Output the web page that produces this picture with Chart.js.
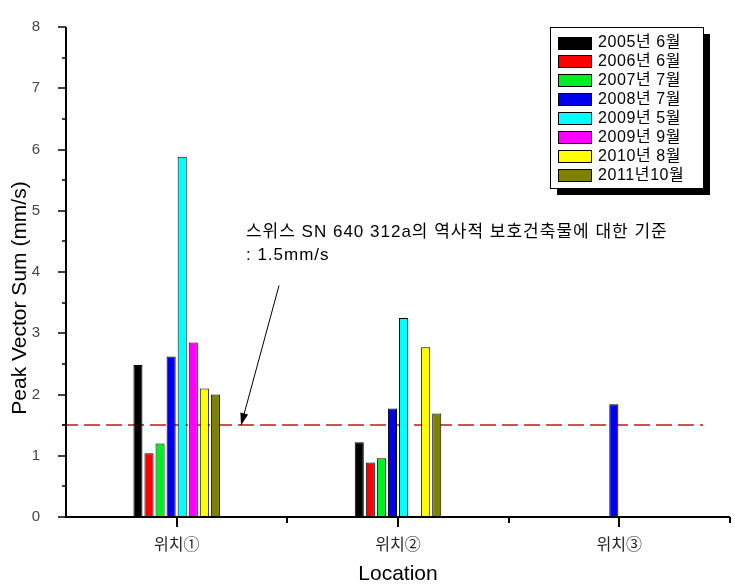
<!DOCTYPE html>
<html>
<head>
<meta charset="utf-8">
<script src="https://cdn.jsdelivr.net/npm/chart.js@4.4.1/dist/chart.umd.min.js"></script>
<style>
  html, body { margin: 0; padding: 0; background: #fff; }
  #wrap { width: 735px; height: 588px; }
</style>
</head>
<body>
<div id="wrap"><canvas id="c" width="735" height="588"></canvas></div>
<script>
// ---- data ----
const categories = ['위치①', '위치②', '위치③'];
const seriesLabels = ['2005년 6월', '2006년 6월', '2007년 7월', '2008년 7월', '2009년 5월', '2009년 9월', '2010년 8월', '2011년10월'];
const s2005_06 = [2.48, 1.22, null];
const s2006_06 = [1.04, 0.89, null];
const s2007_07 = [1.20, 0.96, null];
const s2008_07 = [2.62, 1.77, 1.84];
const s2009_05 = [5.88, 3.25, null];
const s2009_09 = [2.85, null, null];
const s2010_08 = [2.10, 2.77, null];
const s2011_10 = [2.00, 1.69, null];
const seriesValues = [s2005_06, s2006_06, s2007_07, s2008_07, s2009_05, s2009_09, s2010_08, s2011_10];
const seriesColors = ['#000000', '#ff0000', '#00ee22', '#0000ee', '#00ffff', '#ff00ff', '#ffff00', '#808000'];
const yTicks = [0, 1, 2, 3, 4, 5, 6, 7, 8];
const thresholdValue = 1.5;
const annotationLine1 = '스위스 SN 640 312a의 역사적 보호건축물에 대한 기준';
const annotationLine2 = ': 1.5mm/s';
const xTitle = 'Location';
const yTitle = 'Peak Vector Sum (mm/s)';

const FONT = '"Liberation Sans", Arial, "Noto Sans CJK KR", sans-serif';

const overlay = {
  id: 'overlay',
  beforeDatasetsDraw(chart) {
    const ctx = chart.ctx, xs = chart.scales.x, ys = chart.scales.y;
    const y = Math.round(ys.getPixelForValue(thresholdValue));
    ctx.save();
    ctx.strokeStyle = '#c01818';
    ctx.lineWidth = 1.5;
    ctx.setLineDash([16, 6]);
    ctx.beginPath();
    ctx.moveTo(xs.left - 4, y);
    ctx.lineTo(xs.getPixelForValue(2.378), y);
    ctx.stroke();
    ctx.restore();
  },
  afterDraw(chart) {
    const ctx = chart.ctx, xs = chart.scales.x, ys = chart.scales.y;
    const a = chart.chartArea;
    ctx.save();
    // axes
    ctx.strokeStyle = '#000';
    ctx.lineWidth = 2;
    ctx.beginPath();
    ctx.moveTo(a.left, a.top);
    ctx.lineTo(a.left, a.bottom);
    ctx.lineTo(a.right, a.bottom);
    ctx.stroke();
    // y ticks major + minor
    ctx.lineWidth = 1.5;
    for (let v = ys.min; v <= ys.max + 1e-9; v += 0.5) {
      const py = Math.round(ys.getPixelForValue(v));
      const major = Math.abs(v - Math.round(v)) < 1e-9;
      ctx.beginPath();
      ctx.moveTo(a.left - (major ? 8 : 4), py);
      ctx.lineTo(a.left, py);
      ctx.stroke();
    }
    // x ticks: major at centers, minor at boundaries
    ctx.lineWidth = 2;
    for (let i = 0; i < categories.length; i++) {
      const px = Math.round(xs.getPixelForValue(i));
      ctx.beginPath();
      ctx.moveTo(px, a.bottom);
      ctx.lineTo(px, a.bottom + 10);
      ctx.stroke();
      const bx = Math.round(xs.getPixelForValue(i + 0.5));
      ctx.beginPath();
      ctx.moveTo(bx, a.bottom);
      ctx.lineTo(bx, a.bottom + 6);
      ctx.stroke();
    }
    // axis titles
    ctx.fillStyle = '#000';
    ctx.font = '21px ' + FONT;
    ctx.textAlign = 'center';
    ctx.textBaseline = 'middle';
    ctx.fillText(xTitle, (a.left + a.right) / 2, 574);
    ctx.save();
    ctx.translate(20, (a.top + a.bottom) / 2 + 26);
    ctx.rotate(-Math.PI / 2);
    ctx.fillText(yTitle, 0, 0);
    ctx.restore();

    // annotation text
    ctx.font = '17px ' + FONT;
    ctx.letterSpacing = '1px';
    ctx.textAlign = 'left';
    ctx.fillStyle = '#000';
    const tx = xs.getPixelForValue(0.313);
    ctx.fillText(annotationLine1, tx, ys.getPixelForValue(4.64));
    ctx.fillText(annotationLine2, tx, ys.getPixelForValue(4.27));
    ctx.letterSpacing = '0px';
    // arrow
    const x0 = xs.getPixelForValue(0.4625), y0 = ys.getPixelForValue(3.78);
    const x1 = xs.getPixelForValue(0.291), y1 = ys.getPixelForValue(thresholdValue);
    ctx.strokeStyle = '#000';
    ctx.lineWidth = 1;
    ctx.beginPath();
    ctx.moveTo(x0, y0);
    ctx.lineTo(x1, y1);
    ctx.stroke();
    const ang = Math.atan2(y1 - y0, x1 - x0);
    const hl = 12, hw = 4;
    ctx.beginPath();
    ctx.moveTo(x1, y1);
    ctx.lineTo(x1 - hl * Math.cos(ang) + hw * Math.sin(ang), y1 - hl * Math.sin(ang) - hw * Math.cos(ang));
    ctx.lineTo(x1 - hl * Math.cos(ang) - hw * Math.sin(ang), y1 - hl * Math.sin(ang) + hw * Math.cos(ang));
    ctx.closePath();
    ctx.fillStyle = '#000';
    ctx.fill();

    // legend
    const lx = a.right - 180, ly = a.top, lw = 153, lh = 161;
    ctx.fillStyle = '#000';
    ctx.fillRect(lx + 7, ly + 7, lw, lh);
    ctx.fillStyle = '#fff';
    ctx.fillRect(lx, ly, lw, lh);
    ctx.strokeStyle = '#000';
    ctx.lineWidth = 1;
    ctx.strokeRect(lx + 0.5, ly + 0.5, lw, lh);
    ctx.font = '16px ' + FONT;
    ctx.letterSpacing = '0.6px';
    ctx.textBaseline = 'middle';
    chart.data.datasets.forEach((ds, i) => {
      const cy = ly + 16 + i * 18.9;
      ctx.fillStyle = ds.backgroundColor;
      ctx.fillRect(lx + 8, Math.round(cy - 6.5), 34, 13);
      ctx.strokeStyle = '#000';
      ctx.strokeRect(lx + 8.5, Math.round(cy - 6.5) + 0.5, 33, 12);
      ctx.fillStyle = '#000';
      ctx.fillText(ds.label, lx + 48, cy);
    });
    ctx.letterSpacing = '0px';
    ctx.restore();
  }
};

new Chart(document.getElementById('c'), {
  type: 'bar',
  data: {
    labels: categories,
    datasets: seriesLabels.map((lab, i) => ({
      label: lab,
      data: seriesValues[i],
      backgroundColor: seriesColors[i],
      borderColor: '#000',
      borderWidth: 1,
      categoryPercentage: 0.4,
      barPercentage: 0.82
    }))
  },
  options: {
    responsive: false,
    animation: false,
    events: [],
    layout: { padding: { top: 26, right: 5, left: 0, bottom: 0 } },
    plugins: { legend: { display: false }, tooltip: { enabled: false } },
    scales: {
      x: {
        offset: true,
        grid: { display: false },
        border: { display: false },
        ticks: { color: '#222', font: { size: 16, family: FONT }, padding: 11, maxRotation: 0 },
        afterFit(s) { s.height = 71; }
      },
      y: {
        min: 0, max: 8,
        afterBuildTicks(s) { s.ticks = yTicks.map(v => ({ value: v })); },
        grid: { display: false },
        border: { display: false },
        ticks: { color: '#444', font: { size: 15, family: FONT }, padding: 18 },
        afterFit(s) { s.width = 66; }
      }
    }
  },
  plugins: [overlay]
});
</script>
</body>
</html>
